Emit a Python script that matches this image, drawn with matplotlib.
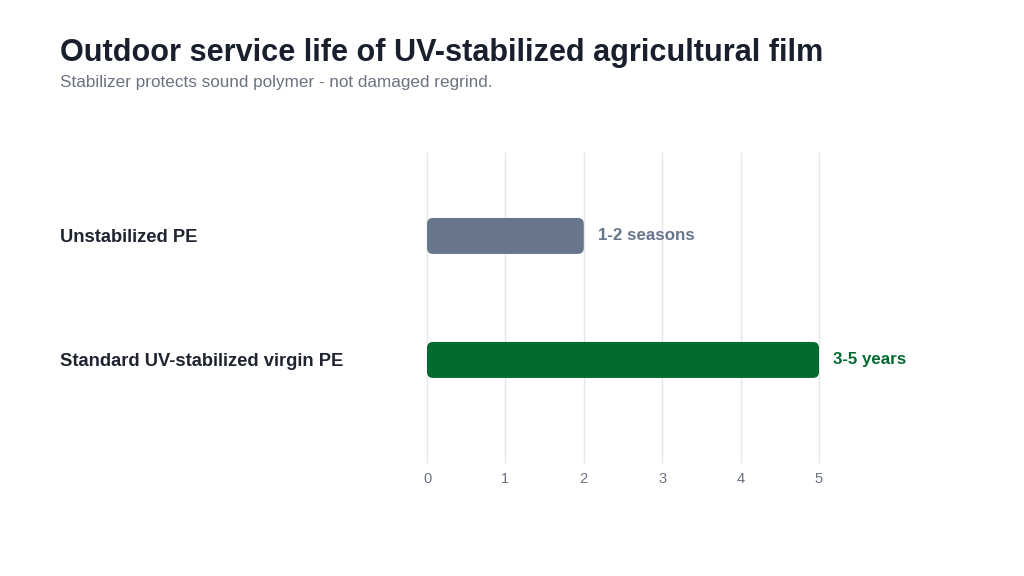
import matplotlib
matplotlib.use("Agg")
import matplotlib.pyplot as plt
from matplotlib.patches import FancyBboxPatch
from matplotlib.transforms import offset_copy

plt.rcParams['font.family'] = ['Liberation Sans', 'DejaVu Sans']

categories = ["Unstabilized PE", "Standard UV-stabilized virgin PE"]
values = [2, 5]
value_labels = ["1-2 seasons", "3-5 years"]
colors = ["#68768b", "#036b30"]
xticks = [0, 1, 2, 3, 4, 5]

W, H = 1024, 576
fig = plt.figure(figsize=(W / 100, H / 100), dpi=100)
fig.patch.set_facecolor("white")

left, right, top, bottom = 427, 819, 153, 462
ax = fig.add_axes([left / W, 1 - bottom / H, (right - left) / W, (bottom - top) / H])

ax.set_xlim(0, 5)
ax.set_ylim(1.823, -0.669)

for s in ax.spines.values():
    s.set_visible(False)
ax.set_xticks(xticks)
ax.set_xticklabels([str(t) for t in xticks])
ax.tick_params(axis="x", length=0, pad=7, labelsize=10.5, labelcolor="#6b7280")
ax.set_yticks([])
ax.grid(axis="x", color="#e5e7eb", linewidth=1)
for gl in ax.get_xgridlines():
    gl.set_clip_on(False)
ax.set_axisbelow(True)

# data units per pixel
ux = 5 / (right - left)
uy = (1.823 + 0.669) / (bottom - top)
radius_px = 6
bar_h = 36 * uy

for i, (cat, v, lab, c) in enumerate(zip(categories, values, value_labels, colors)):
    p = FancyBboxPatch((0, i - bar_h / 2), v, bar_h,
                       boxstyle=f"round,pad=0,rounding_size={radius_px * ux}",
                       mutation_aspect=uy / ux, facecolor=c, edgecolor="none", zorder=3)
    ax.add_patch(p)
    ax.text(v, i, lab, transform=offset_copy(ax.transData, fig=fig, x=14 * 0.72, y=0, units="points"),
            ha="left", va="center", fontsize=12.2, fontweight="bold", color=c)
    fig.text(60 / W, 1 - (236 + 124 * i) / H, cat, ha="left", va="center_baseline",
             fontsize=13.2, fontweight="bold", color="#1f2430")

fig.text(60 / W, 1 - 61 / H, "Outdoor service life of UV-stabilized agricultural film",
         ha="left", va="baseline", fontsize=22.1, fontweight="bold", color="#1a1f2e")
fig.text(60 / W, 1 - 87 / H, "Stabilizer protects sound polymer - not damaged regrind.",
         ha="left", va="baseline", fontsize=12.3, color="#6b7280")

fig.savefig("out.png", dpi=100, facecolor="white")
